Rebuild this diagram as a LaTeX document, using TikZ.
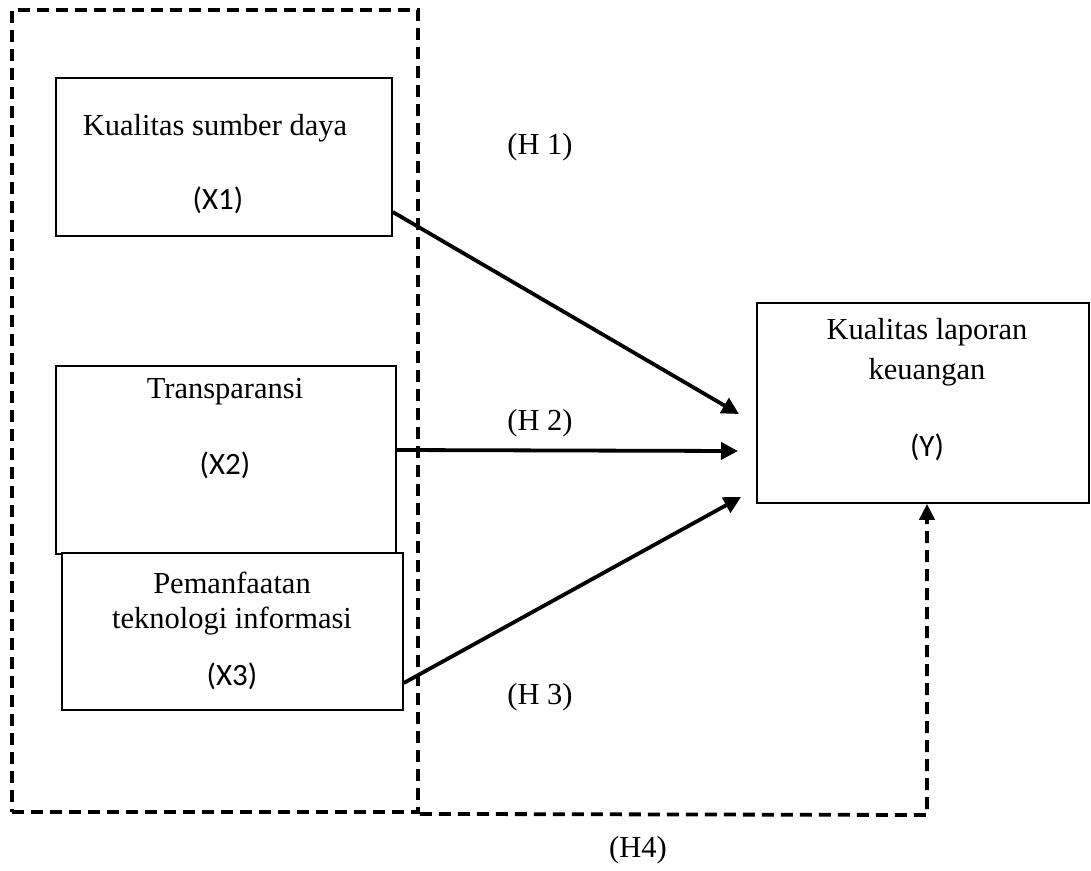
\documentclass[tikz,border=0pt]{standalone}
\usepackage{fontspec}
\setmainfont{Liberation Serif}
\newfontfamily\carlitofont{Carlito}
\usetikzlibrary{arrows.meta}
\begin{document}
\begin{tikzpicture}[x=1pt,y=-1pt,
  box/.style={draw,line width=1.6pt,inner sep=0pt,rectangle},
  lbl/.style={font=\fontsize{30.5}{36}\selectfont,inner sep=0pt,anchor=center},
  var/.style={font=\carlitofont\fontsize{31}{36}\selectfont,inner sep=0pt,anchor=center},
  link/.style={line width=3.8pt,-{Triangle[length=17pt,width=17pt]}},
  dashline/.style={line width=3.8pt,dash pattern=on 12pt off 7pt}]

\useasboundingbox (0,0) rectangle (1091,870);

% grouping dashed box
\node[draw,dashline,inner sep=0pt,minimum width=406pt,minimum height=802pt] (grp) at (215,411) {};

% boxes
\node[box,minimum width=336pt,minimum height=158pt] (x1) at (224,157) {};
\node[box,minimum width=340pt,minimum height=188pt] (x2) at (226,460) {};
\node[box,fill=white,minimum width=341pt,minimum height=157pt] (x3) at (232.5,631.5) {};
\node[box,minimum width=332pt,minimum height=200pt] (y) at (923,403) {};

% texts
\node[lbl] (t1) at (215,128) {Kualitas sumber daya};
\node[var] (v1) at (218,200) {(X1)};
\node[lbl] (t2) at (225,392) {Transparansi};
\node[var] (v2) at (225,465) {(X2)};
\node[lbl] (t3a) at (232,583) {Pemanfaatan};
\node[lbl] (t3b) at (232,621) {teknologi informasi};
\node[var] (v3) at (232,676) {(X3)};
\node[lbl] (ty1) at (927,332) {Kualitas laporan};
\node[lbl] (ty2) at (927,372) {keuangan};
\node[var] (vy) at (927,447) {(Y)};

% hypothesis labels
\node[lbl] (h1) at (540,147) {(H 1)};
\node[lbl] (h2) at (540,423) {(H 2)};
\node[lbl] (h3) at (540,697) {(H 3)};
\node[lbl] (h4) at (638,850) {(H4)};

% arrow end points
\coordinate (e1) at (739,414);
\coordinate (e2) at (738,451);
\coordinate (e3) at (741,497);
\coordinate (c4) at (927,815);

\draw[link] ([yshift=-55pt]x1.east) -- (e1);
\draw[link] ([yshift=10pt]x2.east) -- (e2);
\draw[link] ([yshift=-51.5pt]x3.east) -- (e3);
\draw[dashline,-{Triangle[length=16pt,width=15pt]}] (grp.south east) -- (c4) -- (c4 |- y.south);
\end{tikzpicture}
\end{document}
